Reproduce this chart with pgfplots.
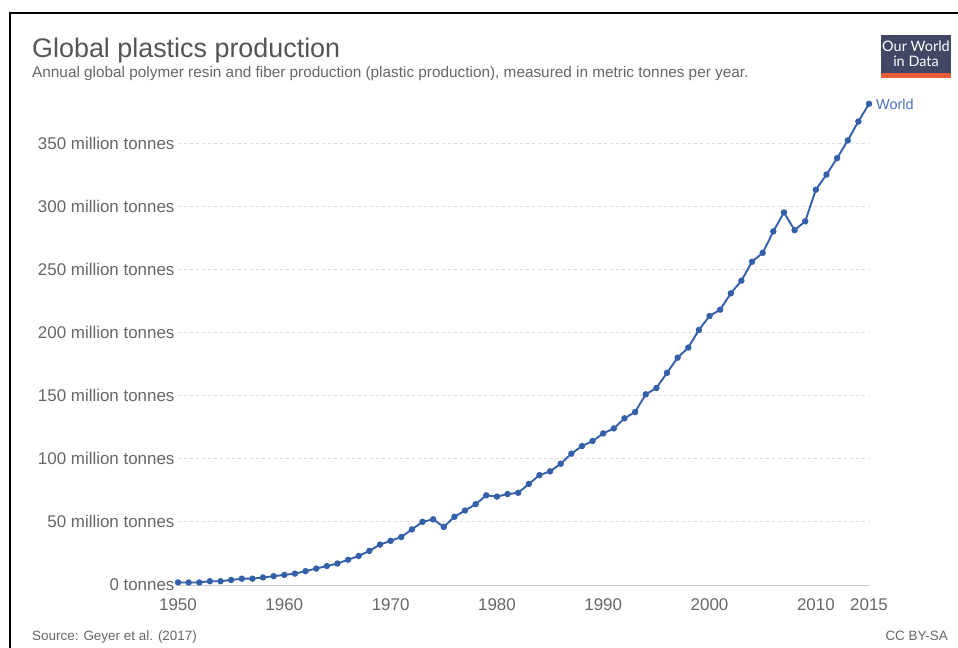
\documentclass[border=0pt]{standalone}
\usepackage{pgfplots}
\pgfplotsset{compat=1.18}
\usepackage{fontspec}
\setmainfont{Liberation Sans}
\newfontfamily\logofont{Lato}

\definecolor{owidblue}{RGB}{51,96,169}
\definecolor{labelblue}{RGB}{78,112,190}
\definecolor{txtgray}{RGB}{102,102,102}
\definecolor{titlegray}{RGB}{85,85,85}
\definecolor{gridgray}{RGB}{218,218,218}
\definecolor{basegray}{RGB}{204,204,204}
\definecolor{logonavy}{RGB}{64,72,102}
\definecolor{logored}{RGB}{232,93,58}

\begin{document}
\begin{tikzpicture}
% page frame, 958 x 648 px
\path[use as bounding box] (0bp,0bp) rectangle (958bp,648bp);
\draw[black, line width=2bp] (9.5bp,0bp) -- (9.5bp,634.5bp) -- (958bp,634.5bp);

% title block
\node[anchor=base west, inner sep=0, text=titlegray, font=\fontsize{27}{27}\selectfont]
  at (32bp,590bp) {Global plastics production};
\node[anchor=base west, inner sep=0, text=txtgray, font=\fontsize{15.4}{15.4}\selectfont]
  at (32bp,570bp) {Annual global polymer resin and fiber production (plastic production), measured in metric tonnes per year.};

% logo
\fill[logonavy] (881bp,575bp) rectangle (951bp,613bp);
\fill[logored] (881bp,570bp) rectangle (951bp,575bp);
\node[anchor=base, inner sep=0, text=white, font=\logofont\fontsize{14.5}{14.5}\selectfont]
  at (916bp,596.5bp) {Our World};
\node[anchor=base, inner sep=0, text=white, font=\logofont\fontsize{14.5}{14.5}\selectfont]
  at (916bp,581bp) {in Data};

% footer
\node[anchor=base west, inner sep=0, text=txtgray, font=\fontsize{13.5}{13.5}\selectfont]
  at (32bp,8bp) {Source: Geyer et al. (2017)};
\node[anchor=base east, inner sep=0, text=txtgray, font=\fontsize{13.5}{13.5}\selectfont]
  at (948bp,8bp) {CC BY-SA};

\begin{axis}[
    at={(178bp,63bp)}, anchor=south west,
    scale only axis,
    width=691bp, height=442bp,
    xmin=1950, xmax=2015,
    ymin=0, ymax=350,
    clip=false,
    axis lines=left,
    axis line style={-},
    x axis line style={draw=basegray, line width=1bp},
    y axis line style={draw=none},
    major tick length=0pt,
    xtick={1950,1960,1970,1980,1990,2000,2010,2015},
    xticklabels={1950,1960,1970,1980,1990,2000,2010,2015},
    ytick={0,50,100,150,200,250,300,350},
    yticklabels={0 tonnes,50 million tonnes,100 million tonnes,150 million tonnes,200 million tonnes,250 million tonnes,300 million tonnes,350 million tonnes},
    ymajorgrids,
    major grid style={draw=gridgray, line width=0.8bp, dash pattern=on 3bp off 3bp},
    tick label style={text=txtgray, font=\fontsize{17}{17}\selectfont},
    xticklabel style={yshift=-10bp},
  ]
\addplot[color=owidblue, line width=1.9bp, mark=*, mark size=2.2bp] coordinates {
  (1950,2) (1951,2) (1952,2) (1953,3) (1954,3) (1955,4) (1956,5) (1957,5)
  (1958,6) (1959,7) (1960,8) (1961,9) (1962,11) (1963,13) (1964,15) (1965,17)
  (1966,20) (1967,23) (1968,27) (1969,32) (1970,35) (1971,38) (1972,44) (1973,50)
  (1974,52) (1975,46) (1976,54) (1977,59) (1978,64) (1979,71) (1980,70) (1981,72)
  (1982,73) (1983,80) (1984,87) (1985,90) (1986,96) (1987,104) (1988,110) (1989,114)
  (1990,120) (1991,124) (1992,132) (1993,137) (1994,151) (1995,156) (1996,168) (1997,180)
  (1998,188) (1999,202) (2000,213) (2001,218) (2002,231) (2003,241) (2004,256) (2005,263)
  (2006,280) (2007,295) (2008,281) (2009,288) (2010,313) (2011,325) (2012,338) (2013,352)
  (2014,367) (2015,381)
};
\node[anchor=west, inner sep=0, text=labelblue, font=\fontsize{14.5}{14.5}\selectfont]
  at (axis cs:2015,381) [xshift=7bp, yshift=-0.5bp] {World};
\end{axis}
\end{tikzpicture}
\end{document}
